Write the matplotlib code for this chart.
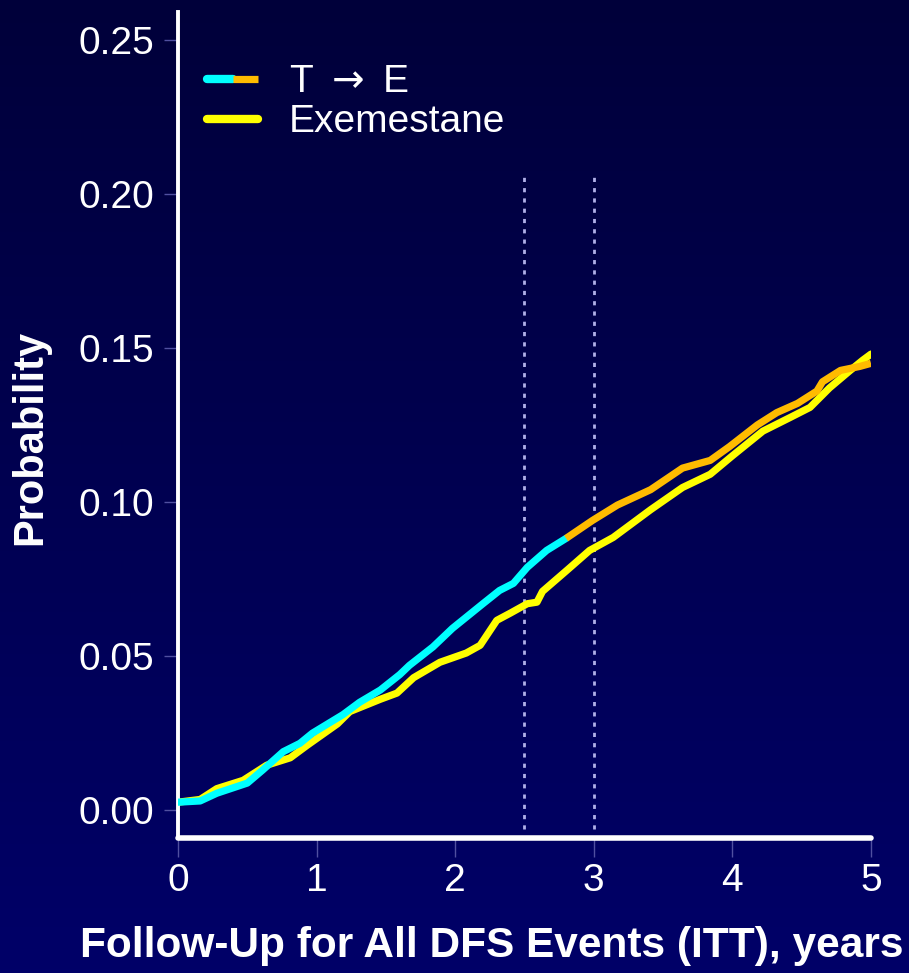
import numpy as np
import matplotlib
matplotlib.use("Agg")
import matplotlib.pyplot as plt
from matplotlib.legend_handler import HandlerTuple

plt.rcParams['font.family'] = ['Liberation Sans', 'DejaVu Sans']

# cumulative DFS event probability, T -> E arm (tamoxifen part, then exemestane part)
te_years = [0.0, 0.16, 0.28, 0.5, 0.61, 0.76, 0.88, 0.97, 1.19, 1.31, 1.46, 1.6, 1.67, 1.84,
            1.98, 2.2, 2.32, 2.42, 2.52, 2.66, 2.80]
te_prob = [0.0026, 0.003, 0.0055, 0.0088, 0.013, 0.019, 0.0217, 0.025, 0.031, 0.035, 0.039, 0.044,
           0.047, 0.053, 0.059, 0.067, 0.0713, 0.0736, 0.0788, 0.0843, 0.0882]
te2_years = [2.80, 2.99, 3.17, 3.41, 3.64, 3.84, 3.98, 4.18, 4.32, 4.47, 4.61, 4.65, 4.78, 4.92, 5.0]
te2_prob = [0.0882, 0.094, 0.099, 0.104, 0.111, 0.1135, 0.118, 0.125, 0.129, 0.132, 0.136, 0.139,
            0.1427, 0.144, 0.145]

# Exemestane arm
ex_years = [0.0, 0.16, 0.28, 0.47, 0.64, 0.81, 0.93, 1.15, 1.24, 1.46, 1.58, 1.70, 1.89, 2.08,
            2.18, 2.30, 2.40, 2.52, 2.59, 2.63, 2.81, 2.97, 3.14, 3.41, 3.64, 3.84, 4.0, 4.22,
            4.42, 4.56, 4.70, 4.85, 4.94, 5.0]
ex_prob = [0.0026, 0.0035, 0.007, 0.0097, 0.0146, 0.017, 0.021, 0.028, 0.032, 0.036, 0.038, 0.043,
           0.048, 0.051, 0.0535, 0.0616, 0.064, 0.067, 0.0675, 0.071, 0.078, 0.0843, 0.0885, 0.0975,
           0.1047, 0.109, 0.115, 0.123, 0.1275, 0.1307, 0.137, 0.1427, 0.146, 0.148]

landmarks = [2.5, 3.0]
xticks = [0, 1, 2, 3, 4, 5]
yticks = [0.0, 0.05, 0.10, 0.15, 0.20, 0.25]

fig = plt.figure(figsize=(9.09, 9.73), dpi=100)

# navy gradient background
bg = fig.add_axes([0, 0, 1, 1], zorder=-10)
grad = np.linspace(0, 1, 256).reshape(-1, 1)
cmap = matplotlib.colors.LinearSegmentedColormap.from_list('navy', ['#00003a', '#000068'])
bg.imshow(grad, aspect='auto', cmap=cmap, extent=[0, 1, 0, 1])
bg.axis('off')

ax = fig.add_axes([0.1958, 0.1388, 0.7624, 0.8489])
ax.set_facecolor('none')

for x in landmarks:
    ax.plot([x, x], [-0.006, 0.207], color='#b0b0e8', lw=2, ls=(0, (1.5, 2.2)), zorder=1)

lw = 5.2
ex_line, = ax.plot(ex_years, ex_prob, color='#ffff00', lw=lw, solid_capstyle='round',
                   solid_joinstyle='round', zorder=2)
te_line, = ax.plot(te_years, te_prob, color='#00ffff', lw=lw, solid_capstyle='round',
                   solid_joinstyle='round', zorder=3)
te2_line, = ax.plot(te2_years, te2_prob, color='#ffbb00', lw=lw, solid_capstyle='butt',
                    solid_joinstyle='round', zorder=3)

ax.set_xlim(0, 5)
ax.set_ylim(-0.009, 0.259)
ax.set_xticks(xticks)
ax.set_xticklabels([str(t) for t in xticks])
ax.set_yticks(yticks)
ax.set_yticklabels(['%.2f' % t for t in yticks])

for s in ['top', 'right']:
    ax.spines[s].set_visible(False)
ax.spines['left'].set_color('white')
ax.spines['left'].set_linewidth(2.8)
ax.spines['bottom'].set_color('white')
ax.spines['bottom'].set_linewidth(4)
ax.spines['bottom'].set_capstyle('round')

ax.tick_params(axis='y', colors='#5050a0', labelcolor='white', labelsize=28, length=10, width=1, pad=7)
ax.tick_params(axis='x', colors='#5050a0', labelcolor='white', labelsize=28, length=14, width=1, pad=4)

fig.text(0.033, 0.55, 'Probability', color='white', fontsize=30, fontweight='bold',
         rotation=90, ha='center', va='center')
fig.text(0.541, 0.028, 'Follow-Up for All DFS Events (ITT), years', color='white',
         fontsize=30.5, fontweight='bold', ha='center', va='center')

leg = ax.legend([(te_line, te2_line), ex_line], [r'T $\rightarrow$ E', 'Exemestane'],
                handler_map={tuple: HandlerTuple(ndivide=None, pad=0)},
                loc='upper left', bbox_to_anchor=(-0.008, 0.979), frameon=False,
                fontsize=28, labelcolor='white', handlelength=1.3, handletextpad=0.8,
                labelspacing=0.1)
for h in leg.legend_handles:
    h.set_linewidth(6) if hasattr(h, 'set_linewidth') else None

fig.savefig('out.png', dpi=100)
